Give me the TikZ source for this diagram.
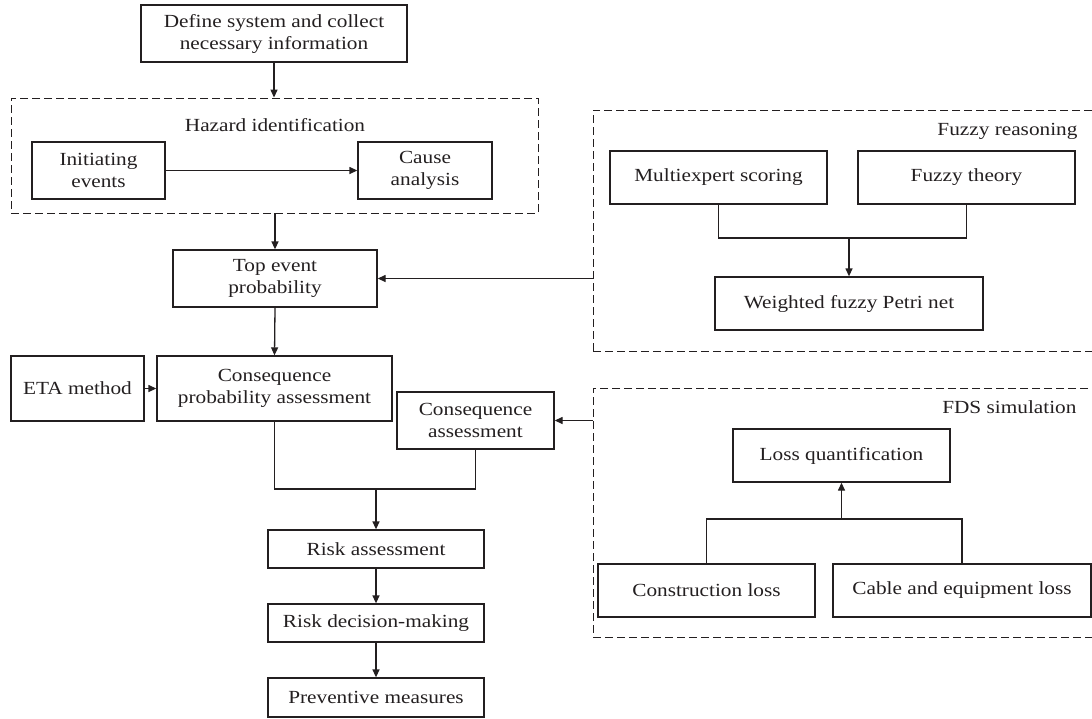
\documentclass[tikz,border=0pt]{standalone}
\usepackage{fontspec}
\setmainfont{Liberation Serif}[FakeStretch=1.15]
\usetikzlibrary{arrows.meta}
\definecolor{ink}{RGB}{35,31,32}
\begin{document}
\begin{tikzpicture}[x=1pt,y=-1pt,
  every node/.style={font=\fontsize{18.5}{22}\selectfont, text=ink},
  box/.style={draw=ink, line width=1.3pt, inner sep=0pt, align=center},
  grp/.style={draw=ink, line width=0.9pt, dash pattern=on 8pt off 4pt, inner sep=0pt},
  conn/.style={draw=ink, line width=1.3pt},
  arr/.style={conn, -{Triangle[length=8pt,width=7pt]}}]
\useasboundingbox (0,0) rectangle (1092,718);
\clip (0,0) rectangle (1092,718);
% groups
\node[grp, minimum width=527pt, minimum height=115pt] (hz) at (274.5,155.5) {};
\node (hzl) at (275,125) {Hazard identification};
\node[grp, minimum width=507pt, minimum height=241pt] (fz) at (846.5,230.5) {};
\node[anchor=base east] (fzl) at (1081,135) {Fuzzy reasoning};
\node[grp, minimum width=507pt, minimum height=249pt] (fds) at (846.5,512.5) {};
\node[anchor=base east] (fdsl) at (1080,413) {FDS simulation};
% boxes
\node[box, minimum width=266pt, minimum height=57pt] (def) at (274,33.5) {Define system and collect\\necessary information};
\node[box, minimum width=133pt, minimum height=57pt] (ie) at (98.5,170.5) {Initiating\\events};
\node[box, minimum width=134pt, minimum height=57pt] (ca) at (425,170.5) {Cause\\analysis};
\node[box, minimum width=204pt, minimum height=57pt] (te) at (275,278.5) {Top event\\probability};
\node[box, minimum width=217pt, minimum height=53pt] (me) at (718.5,177.5) {Multiexpert scoring};
\node[box, minimum width=217pt, minimum height=53pt] (ft) at (966.5,177.5) {Fuzzy theory};
\node[box, minimum width=268pt, minimum height=53pt] (wf) at (849,303.5) {Weighted fuzzy Petri net};
\node[box, minimum width=133pt, minimum height=65pt] (eta) at (77.5,388.5) {ETA method};
\node[box, minimum width=235pt, minimum height=65pt] (cp) at (274.5,388.5) {Consequence\\probability assessment};
\node[box, minimum width=157pt, minimum height=57pt] (cas) at (475.5,420.5) {Consequence\\assessment};
\node[box, minimum width=217pt, minimum height=53pt] (lq) at (841.5,455.5) {Loss quantification};
\node[box, minimum width=217pt, minimum height=53pt] (cl) at (706.5,590.5) {Construction loss};
\node[box, minimum width=258pt, minimum height=53pt] (ce) at (962,590.5) {Cable and equipment loss};
\node[box, minimum width=216pt, minimum height=38pt] (ra) at (376,549) {Risk assessment};
\node[box, minimum width=216pt, minimum height=38pt] (rd) at (376,623) {Risk decision-making};
\node[box, minimum width=216pt, minimum height=39pt] (pm) at (376,697.5) {Preventive measures};
% connectors
\draw[arr] (def.south) -- (def.south |- hz.north);
\draw[arr] (ie.east) -- (ca.west);
\draw[arr] (te.north |- hz.south) -- (te.north);
\draw[arr] (te.east -| fz.west) -- (te.east);
\draw[arr] (te.south) -- (cp.north);
\draw[arr] (eta.east) -- (cp.west);
\draw[arr] (cas.east -| fds.west) -- (cas.east);
\coordinate (jr) at (376,489);
\draw[conn] (cp.south) -- (cp.south |- jr) -- (cas.south |- jr) -- (cas.south);
\draw[arr] (jr) -- (ra.north);
\draw[arr] (ra.south) -- (rd.north);
\draw[arr] (rd.south) -- (pm.north);
\coordinate (fj) at (849,238);
\draw[conn] (me.south) -- (me.south |- fj) -- (ft.south |- fj) -- (ft.south);
\draw[arr] (fj) -- (wf.north);
\coordinate (lj) at (841.5,519);
\draw[conn] (cl.north) -- (cl.north |- lj) -- (ce.north |- lj) -- (ce.north);
\draw[arr] (lj) -- (lq.south);
\end{tikzpicture}
\end{document}
